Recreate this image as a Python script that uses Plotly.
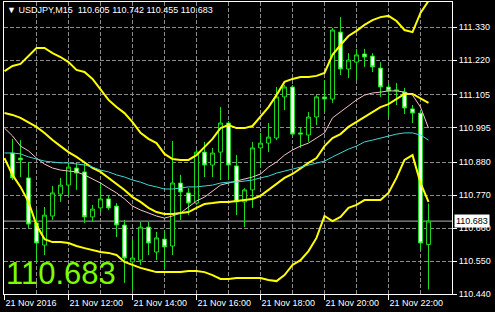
import plotly.graph_objects as go

# ---- data (USDJPY M15, 21 Nov 2016, bars from 10:00) ----
bar_times = ["10:00","10:15","10:30","10:45","11:00","11:15","11:30","11:45",
             "12:00","12:15","12:30","12:45","13:00","13:15","13:30","13:45",
             "14:00","14:15","14:30","14:45","15:00","15:15","15:30","15:45",
             "16:00","16:15","16:30","16:45","17:00","17:15","17:30","17:45",
             "18:00","18:15","18:30","18:45","19:00","19:15","19:30","19:45",
             "20:00","20:15","20:30","20:45","21:00","21:15","21:30","21:45",
             "22:00","22:15","22:30","22:45","23:00","23:15"]

candle_open = [110.910,110.893,110.827,110.677,110.603,110.700,110.773,110.803,110.860,110.847,
               110.697,110.727,110.757,110.733,110.670,110.547,110.553,110.663,110.580,110.623,
               110.600,110.810,110.777,110.743,110.913,110.870,110.913,111.010,110.867,110.747,
               110.787,110.927,110.943,110.960,111.097,111.130,110.977,110.970,111.030,111.097,
               111.090,111.313,111.190,111.213,111.240,111.233,111.193,111.130,111.117,111.113,
               111.057,111.043,110.605]
candle_high = [110.957,110.953,110.880,110.720,110.730,110.800,110.827,110.877,110.877,110.877,
               110.737,110.810,110.767,110.743,110.687,110.620,110.680,110.680,110.647,110.653,
               110.950,110.837,110.793,110.920,110.947,110.927,111.063,111.017,110.903,110.793,
               110.947,110.977,111.010,111.130,111.137,111.137,110.997,111.047,111.103,111.153,
               111.327,111.363,111.243,111.257,111.257,111.243,111.213,111.143,111.143,111.127,
               111.070,111.053,110.742]
candle_low = [110.820,110.830,110.660,110.547,110.570,110.687,110.747,110.770,110.787,110.677,
              110.680,110.713,110.720,110.630,110.477,110.453,110.537,110.570,110.553,110.520,
              110.570,110.687,110.703,110.737,110.830,110.830,110.820,110.820,110.703,110.663,
              110.727,110.863,110.913,110.953,111.053,110.970,110.927,110.947,111.003,111.047,
              111.077,111.170,111.160,111.153,111.197,111.180,111.097,111.030,111.070,111.040,
              111.010,110.587,110.455]
candle_close = [110.827,110.887,110.673,110.610,110.703,110.777,110.803,110.863,110.843,110.697,
                110.723,110.757,110.727,110.670,110.560,110.560,110.663,110.610,110.627,110.597,
                110.810,110.780,110.743,110.913,110.870,110.910,111.010,110.870,110.747,110.787,
                110.927,110.943,110.963,111.097,111.130,110.973,110.973,111.030,111.097,111.090,
                111.320,111.190,111.220,111.237,111.230,111.197,111.130,111.117,111.120,111.060,
                111.043,110.610,110.683]

bb_upper = [111.183,111.200,111.207,111.233,111.260,111.260,111.243,111.230,111.213,111.187,
            111.180,111.157,111.123,111.087,111.063,111.043,111.013,110.977,110.957,110.943,
            110.907,110.890,110.887,110.887,110.903,110.930,110.957,110.993,111.003,110.993,
            110.993,111.000,111.030,111.063,111.103,111.147,111.157,111.163,111.163,111.167,
            111.177,111.237,111.270,111.300,111.317,111.337,111.353,111.363,111.367,111.350,
            111.320,111.313,111.377,111.417]
bb_middle = [111.043,111.037,111.027,111.013,110.997,110.977,110.953,110.933,110.913,110.897,
             110.877,110.860,110.847,110.827,110.810,110.787,110.763,110.747,110.727,110.713,
             110.707,110.707,110.710,110.713,110.727,110.740,110.743,110.747,110.747,110.750,
             110.753,110.757,110.767,110.787,110.807,110.827,110.840,110.860,110.877,110.893,
             110.933,110.960,110.973,110.997,111.013,111.030,111.047,111.063,111.073,111.090,
             111.107,111.107,111.093,111.077]
bb_lower = [110.893,110.837,110.797,110.747,110.670,110.623,110.613,110.613,110.610,110.600,
            110.593,110.587,110.580,110.577,110.570,110.547,110.537,110.527,110.520,110.513,
            110.513,110.513,110.513,110.517,110.517,110.513,110.503,110.490,110.490,110.493,
            110.493,110.493,110.493,110.487,110.483,110.503,110.537,110.553,110.583,110.627,
            110.700,110.683,110.697,110.727,110.737,110.753,110.753,110.753,110.777,110.827,
            110.887,110.903,110.810,110.747]
ma_pink = [110.993,110.967,110.933,110.917,110.893,110.873,110.860,110.853,110.850,110.847,
           110.837,110.823,110.810,110.793,110.777,110.757,110.733,110.720,110.710,110.700,
           110.693,110.700,110.710,110.730,110.750,110.763,110.783,110.803,110.810,110.817,
           110.823,110.830,110.840,110.863,110.880,110.903,110.920,110.933,110.943,110.960,
           110.977,111.027,111.047,111.070,111.087,111.103,111.110,111.113,111.117,111.117,
           111.113,111.103,111.063,110.993]
ma_cyan = [110.910,110.910,110.907,110.897,110.890,110.883,110.880,110.877,110.877,110.873,
           110.870,110.863,110.853,110.847,110.837,110.830,110.820,110.813,110.803,110.797,
           110.790,110.790,110.793,110.797,110.797,110.800,110.803,110.810,110.813,110.813,
           110.817,110.820,110.827,110.833,110.843,110.850,110.857,110.863,110.870,110.877,
           110.883,110.897,110.910,110.923,110.933,110.947,110.953,110.960,110.967,110.973,
           110.977,110.977,110.970,110.953]

price_ticks = [110.440,110.550,110.660,110.770,110.880,110.995,111.105,111.220,111.330]
time_tick_pos = [0, 8, 16, 24, 32, 40, 48]
time_tick_labels = ["21 Nov 2016","21 Nov 12:00","21 Nov 14:00","21 Nov 16:00",
                    "21 Nov 18:00","21 Nov 20:00","21 Nov 22:00"]
symbol = "USDJPY,M15"

# ---- figure ----
idx_all = list(range(len(bar_times)))
idx_candles = idx_all[1:]

FONT = "Liberation Sans, Arial, sans-serif"
GREEN = "#1EDC1E"
GRID = "#8C8C8C"

fig = go.Figure()
fig.add_trace(go.Candlestick(
    x=idx_candles, open=candle_open, high=candle_high, low=candle_low, close=candle_close,
    increasing=dict(line=dict(color=GREEN, width=1), fillcolor="black"),
    decreasing=dict(line=dict(color=GREEN, width=1), fillcolor="white"),
    whiskerwidth=0, hoverinfo="skip", showlegend=False))

for series in (bb_upper, bb_middle, bb_lower):
    fig.add_trace(go.Scatter(x=idx_all, y=series, mode="lines",
                             line=dict(color="#FFFF00", width=2),
                             hoverinfo="skip", showlegend=False))
fig.add_trace(go.Scatter(x=idx_all, y=ma_pink, mode="lines",
                         line=dict(color="#F2C4C4", width=1),
                         hoverinfo="skip", showlegend=False))
fig.add_trace(go.Scatter(x=idx_all, y=ma_cyan, mode="lines",
                         line=dict(color="#40D8D0", width=1),
                         hoverinfo="skip", showlegend=False))

last = candle_close[-1]
fig.add_shape(type="line", xref="paper", x0=0, x1=1, yref="y", y0=last, y1=last,
              line=dict(color="#B4B4B4", width=1), layer="below")

fig.add_annotation(xref="paper", x=1, xanchor="left", xshift=2, yref="y", y=last,
                   text=f"{last:.3f}", showarrow=False, bgcolor="white",
                   font=dict(family=FONT, size=9, color="black"), borderpad=1)

fig.add_annotation(xref="paper", x=0, xanchor="left", xshift=1, yref="paper", y=1,
                   yanchor="middle", yshift=-8, showarrow=False,
                   text=f"▼ {symbol}  {candle_open[-1]:.3f} {candle_high[-1]:.3f} "
                        f"{candle_low[-1]:.3f} {candle_close[-1]:.3f}",
                   font=dict(family=FONT, size=9, color="white"))

fig.add_annotation(xref="paper", x=0, xanchor="left", xshift=0, yref="paper", y=0,
                   yanchor="bottom", yshift=1, showarrow=False, text=f"{last:.3f}",
                   font=dict(family=FONT, size=31, color="#7CFC00"))

fig.update_layout(
    width=495, height=312,
    margin=dict(l=4, r=43, t=2, b=18),
    paper_bgcolor="black", plot_bgcolor="black",
    font=dict(family=FONT, size=9, color="white"),
    showlegend=False,
    xaxis=dict(range=[-0.0625, 55.9375], rangeslider=dict(visible=False),
               tickvals=time_tick_pos, ticktext=time_tick_labels,
               ticks="outside", ticklen=5, tickcolor="white",
               ticklabelposition="outside right",
               showgrid=True, gridcolor=GRID, griddash="4px,2px", gridwidth=1,
               minor=dict(dtick=4, tick0=0, showgrid=True, gridcolor=GRID,
                          griddash="4px,2px", ticks=""),
               showline=True, linecolor="white", linewidth=1, mirror=True,
               zeroline=False, fixedrange=True),
    yaxis=dict(range=[110.44, 111.41333], side="right",
               tickvals=price_ticks, ticktext=[f"{v:.3f}" for v in price_ticks],
               ticks="outside", ticklen=4, tickcolor="white",
               showgrid=True, gridcolor=GRID, griddash="4px,2px", gridwidth=1,
               showline=True, linecolor="white", linewidth=1, mirror=True,
               zeroline=False, fixedrange=True),
)

fig.write_html("out.html")
